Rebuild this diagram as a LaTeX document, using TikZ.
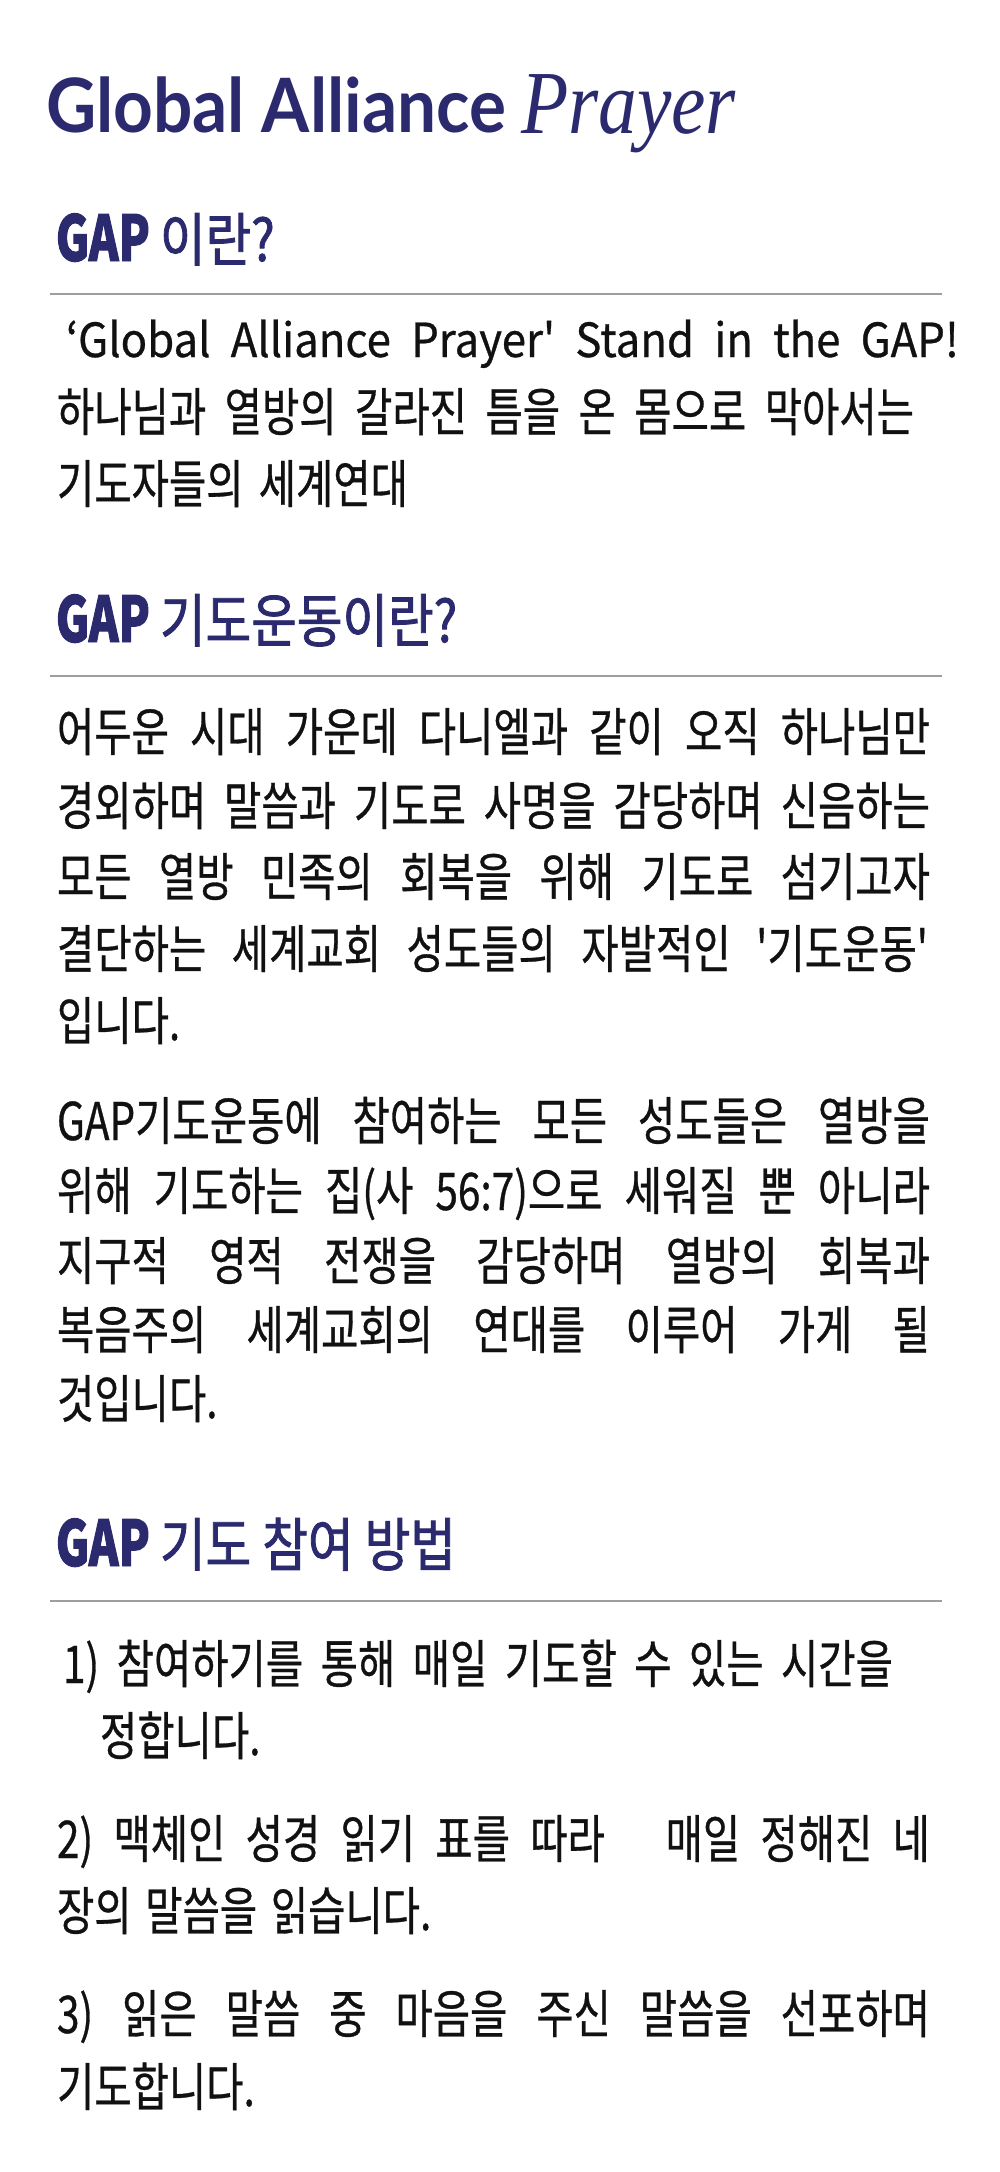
\documentclass[tikz,border=0pt]{standalone}
\usepackage{fontspec}
\usepackage{graphicx}
\newfontfamily\kbody[FakeStretch=0.78, FakeBold=0.6, WordSpace=1.5, Ligatures=TeXOff]{Noto Sans CJK KR}
\newfontfamily\klatin[FakeStretch=0.93, FakeBold=0.6, Ligatures=TeXOff]{Noto Sans CJK KR}
\newfontfamily\khead[FakeStretch=0.855, FakeBold=1.4]{Noto Sans CJK KR}
\newfontfamily\gapfont[FakeStretch=0.72, BoldFeatures={FakeBold=1.5}]{Noto Sans CJK KR}
\newfontfamily\titlefont{Lato}
\newfontfamily\prayfont{Liberation Serif}
\definecolor{navy}{RGB}{43,42,110}
\definecolor{rulegray}{RGB}{158,158,158}
\definecolor{bodyc}{RGB}{17,17,17}
\newcommand{\jline}[2]{\makebox[#1][s]{#2}}
\tikzset{
  txt/.style={anchor=base west, inner sep=0pt, outer sep=0pt},
  body/.style={txt, text=bodyc, font=\kbody\fontsize{52}{56}\selectfont},
  latinbody/.style={txt, text=bodyc, font=\klatin\fontsize{47}{50}\selectfont},
  gaphead/.style={txt, text=navy, font=\gapfont\bfseries\fontsize{63}{66}\selectfont},
  khead/.style={txt, text=navy, font=\khead\fontsize{58}{62}\selectfont},
  rule/.style={draw=rulegray, line width=1.6pt},
}
\begin{document}
\begin{tikzpicture}[x=1pt,y=-1pt]
\useasboundingbox[fill=white] (0,0) rectangle (1000,2172);
% title
\node[txt, text=navy] (title) at (46,132) {\resizebox{460pt}{\height}{\titlefont\bfseries\fontsize{75}{80}\selectfont Global Alliance}};
\node[txt, text=navy] (prayer) at (521,133) {\resizebox{215pt}{\height}{\prayfont\itshape\fontsize{90}{96}\selectfont Prayer}};
% section 1
\node[gaphead] (g1) at (56,261) {GAP};
\node[khead] (h1) at (160,261) {이란?};
\coordinate (r1a) at (50,294); \coordinate (r1b) at (942,294);
\draw[rule] (r1a) -- (r1b);
\node[latinbody] (s1l1) at (66,357) {\jline{893pt}{‘Global Alliance Prayer' Stand in the GAP!}};
\node[body] (s1l2) at (57,431) {\jline{857pt}{하나님과 열방의 갈라진 틈을 온 몸으로 막아서는}};
\node[body] (s1l3) at (57,503) {\jline{351pt}{기도자들의 세계연대}};
% section 2
\node[gaphead] (g2) at (56,642) {GAP};
\node[khead] (h2) at (160,642) {기도운동이란?};
\coordinate (r2a) at (50,676); \coordinate (r2b) at (942,676);
\draw[rule] (r2a) -- (r2b);
\node[body] (p1l1) at (57,751) {\jline{873pt}{어두운 시대 가운데 다니엘과 같이 오직 하나님만}};
\node[body] (p1l2) at (57,825) {\jline{873pt}{경외하며 말씀과 기도로 사명을 감당하며 신음하는}};
\node[body] (p1l3) at (57,896) {\jline{873pt}{모든 열방 민족의 회복을 위해 기도로 섬기고자}};
\node[body] (p1l4) at (57,968) {\jline{871pt}{결단하는 세계교회 성도들의 자발적인 '기도운동'}};
\node[body] (p1l5) at (57,1040) {입니다.};
\node[body] (p2l1) at (57,1140) {\jline{873pt}{GAP기도운동에 참여하는 모든 성도들은 열방을}};
\node[body] (p2l2) at (57,1210) {\jline{873pt}{위해 기도하는 집(사 56:7)으로 세워질 뿐 아니라}};
\node[body] (p2l3) at (57,1280) {\jline{873pt}{지구적 영적 전쟁을 감당하며 열방의 회복과}};
\node[body] (p2l4) at (57,1349) {\jline{873pt}{복음주의 세계교회의 연대를 이루어 가게 될}};
\node[body] (p2l5) at (57,1418) {것입니다.};
% section 3
\node[gaphead] (g3) at (56,1566) {GAP};
\node[khead] (h3) at (160,1566) {기도 참여 방법};
\coordinate (r3a) at (50,1601); \coordinate (r3b) at (942,1601);
\draw[rule] (r3a) -- (r3b);
\node[body] (i1l1) at (63,1683) {\jline{830pt}{1) 참여하기를 통해 매일 기도할 수 있는 시간을}};
\node[body] (i1l2) at (100,1755) {정합니다.};
\node[body] (i2l1) at (57,1858) {\jline{873pt}{2) 맥체인 성경 읽기 표를 따라\ \ \ 매일 정해진 네}};
\node[body] (i2l2) at (57,1930) {장의 말씀을 읽습니다.};
\node[body] (i3l1) at (57,2033) {\jline{873pt}{3) 읽은 말씀 중 마음을 주신 말씀을 선포하며}};
\node[body] (i3l2) at (57,2106) {기도합니다.};
\end{tikzpicture}
\end{document}
